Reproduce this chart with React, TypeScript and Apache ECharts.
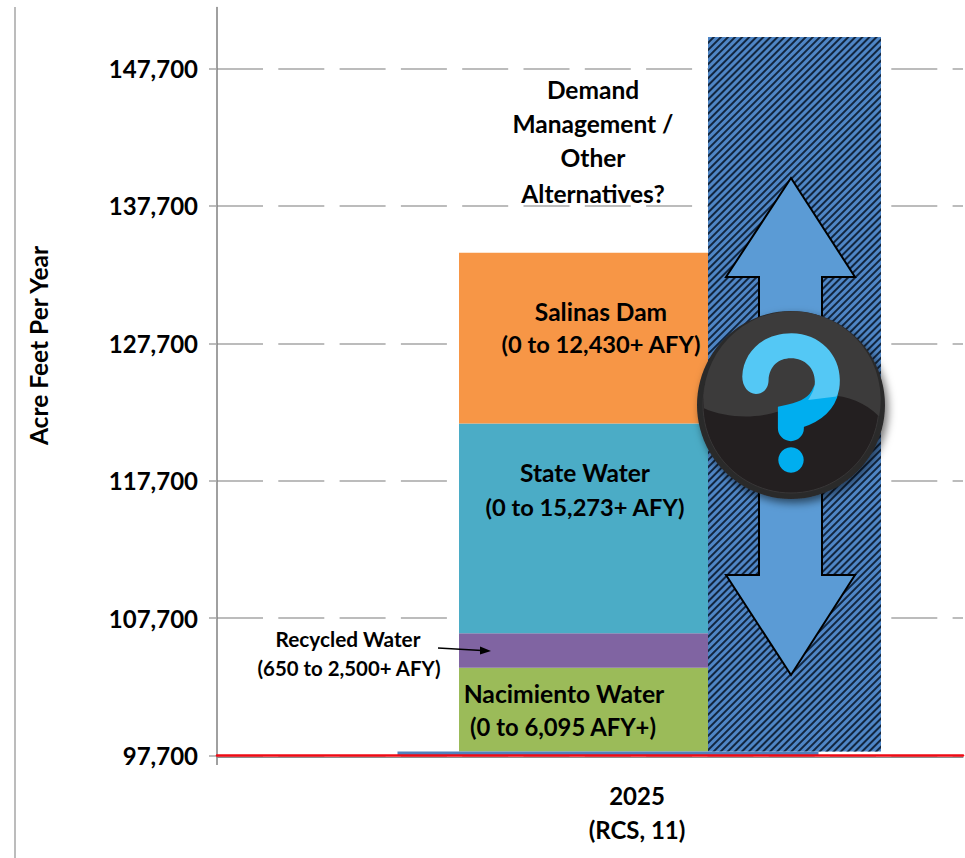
import React, { useEffect, useRef } from "react";
import * as echarts from "echarts";

const categories = ["2025\n(RCS, 11)"];
const tickValues = [97700, 107700, 117700, 127700, 137700, 147700];
const baseSupply = [98000];
const nacimiento = [6095];
const recycled = [2500];
const stateWater = [15273];
const salinasDam = [12430];
const demandManagement = [52000];

const FONT = "Lato, Carlito, Calibri, sans-serif";

echarts.graphic.registerShape(
  "glossTop",
  echarts.graphic.extendPath(
    "M72,385 C150,420 270,420 350,370 C430,330 530,340 598,410 A266,266 0 1 0 72,385 Z",
    {}
  )
);
echarts.graphic.registerShape(
  "qLight",
  echarts.graphic.extendPath(
    "M187,290 C190,215 250,160 335,160 C420,160 480,225 480,300 C480,320 478,335 470,350 L385,360 C398,340 405,325 405,305 C405,265 375,235 333,235 C295,235 268,260 266,300 C266,325 250,342 228,342 C205,342 187,320 187,290 Z",
    {}
  )
);
echarts.graphic.registerShape(
  "qDark",
  echarts.graphic.extendPath("M435,340 C420,380 385,400 333,412 L333,445", {})
);

const bold = (text: string, x: number, y: number, size: number) => ({
  type: "text",
  x,
  y,
  z: 20,
  style: {
    text,
    fontFamily: FONT,
    fontWeight: "bold",
    fontSize: size,
    fill: "#000",
    align: "center",
    verticalAlign: "middle",
  },
});

const iconXf = { x: 680, y: 280, scaleX: 1 / 3, scaleY: 1 / 3, z: 15 };

export default function App() {
  const ref = useRef<HTMLDivElement>(null);
  useEffect(() => {
    document.body.style.margin = "0";
    const chart = echarts.init(ref.current!, null, { renderer: "svg" });
    const stackBar = (name: string, data: number[], color: string, stack: string, width: number) => ({
      name,
      type: "bar",
      stack,
      data,
      barWidth: width,
      barGap: 0,
      xAxisIndex: 0,
      z: 3,
      itemStyle: { color },
    });
    chart.setOption({
      animation: false,
      grid: { left: 217, top: 7.5, width: 746, height: 748, containLabel: false },
      xAxis: [
        {
          type: "category",
          data: categories,
          position: "bottom",
          axisLine: { lineStyle: { color: "#f00a14", width: 2.5 } },
          axisTick: { show: false },
          axisLabel: {
            fontFamily: FONT,
            fontWeight: "bold",
            fontSize: 24,
            color: "#000",
            lineHeight: 34,
            margin: 23,
            padding: [0, 0, 0, 94],
          },
          z: 6,
        },
        {
          type: "category",
          data: categories,
          position: "bottom",
          offset: 1.5,
          axisLine: { lineStyle: { color: "#8c8c8c", width: 1 } },
          axisTick: { show: false },
          axisLabel: { show: false },
          z: 5,
        },
      ],
      yAxis: {
        type: "value",
        min: 97700,
        max: 152140,
        name: "Acre Feet Per Year",
        nameLocation: "middle",
        nameRotate: 90,
        nameGap: 166,
        nameTextStyle: {
          fontFamily: FONT,
          fontWeight: "bold",
          fontSize: 24.5,
          color: "#000",
          padding: [0, 0, 0, 72],
        },
        axisLine: { show: true, lineStyle: { color: "#808080", width: 1.5 } },
        axisTick: {
          show: true,
          length: 8,
          lineStyle: { color: "#a6a6a6", width: 1.5 },
          customValues: tickValues,
        },
        axisLabel: {
          fontFamily: FONT,
          fontWeight: "bold",
          fontSize: 24,
          color: "#000",
          margin: 19,
          customValues: tickValues,
          formatter: (v: number) => v.toLocaleString("en-US"),
        },
        splitLine: {
          show: true,
          lineStyle: { color: "#a6a6a6", width: 1.5, type: [46, 15.3] },
        },
      },
      series: [
        { name: "spacer", type: "bar", data: [null], barWidth: 160, barGap: 0, xAxisIndex: 0, silent: true },
        stackBar("Base", baseSupply, "transparent", "supply", 249),
        stackBar("Nacimiento Water", nacimiento, "#9bbb59", "supply", 249),
        stackBar("Recycled Water", recycled, "#8064a2", "supply", 249),
        stackBar("State Water", stateWater, "#4bacc6", "supply", 249),
        stackBar("Salinas Dam", salinasDam, "#f79646", "supply", 249),
        stackBar("Base 2", baseSupply, "transparent", "demand", 173),
        {
          ...stackBar("Demand Management / Other Alternatives", demandManagement, "#4a7ebb", "demand", 173),
          itemStyle: {
            color: "#4f86c6",
            decal: {
              symbol: "rect",
              symbolSize: 1,
              color: "#12263f",
              dashArrayX: [1, 0],
              dashArrayY: [1.5, 2.7],
              rotation: -Math.PI / 4,
            },
          },
        },
        { name: "spacer 2", type: "bar", data: [null], barWidth: 36, barGap: 0, xAxisIndex: 1, silent: true },
        {
          name: "Base supply",
          type: "bar",
          data: baseSupply,
          barWidth: 421,
          barGap: 0,
          xAxisIndex: 1,
          z: 4,
          itemStyle: { color: "#4f81bd" },
        },
      ],
      graphic: {
        elements: [
          {
            type: "line",
            z: 1,
            shape: { x1: 15, y1: 7, x2: 15, y2: 858 },
            style: { stroke: "#a6a6a6", lineWidth: 1.5 },
          },
          {
            type: "line",
            z: 1,
            shape: { x1: 217, y1: 755, x2: 217, y2: 765 },
            style: { stroke: "#808080", lineWidth: 1.5 },
          },
          bold("Demand", 593, 89, 24.5),
          bold("Management /", 593, 123, 24.5),
          bold("Other", 593, 157, 24.5),
          bold("Alternatives?", 593, 193, 24.5),
          bold("Salinas Dam", 601, 311, 24.5),
          bold("(0 to 12,430+ AFY)", 601, 344, 23.7),
          bold("State Water", 585, 472, 24.5),
          bold("(0 to 15,273+ AFY)", 585, 507, 23.7),
          bold("Nacimiento Water", 564, 693, 24.7),
          bold("(0 to 6,095 AFY+)", 563, 727, 23.8),
          bold("Recycled Water", 348, 638, 20.8),
          bold("(650 to 2,500+ AFY)", 349, 668, 20.4),
          {
            type: "line",
            z: 20,
            shape: { x1: 438, y1: 648, x2: 482, y2: 650.5 },
            style: { stroke: "#000", lineWidth: 1.5 },
          },
          {
            type: "polygon",
            z: 20,
            shape: { points: [[491, 651], [480, 646.5], [480, 654.5]] },
            style: { fill: "#000" },
          },
          {
            type: "polygon",
            z: 12,
            shape: {
              points: [
                [791, 178],
                [855, 277],
                [822, 277],
                [822, 575],
                [855, 575],
                [791, 675],
                [726, 575],
                [759, 575],
                [759, 277],
                [726, 277],
              ],
            },
            style: { fill: "#5b9bd5", stroke: "#000", lineWidth: 2 },
          },
          {
            type: "circle",
            z: 13,
            shape: { cx: 791, cy: 405, r: 94 },
            style: {
              fill: "#2b2a2b",
              shadowBlur: 8,
              shadowColor: "rgba(0,0,0,0.55)",
              shadowOffsetX: 3,
              shadowOffsetY: 4,
            },
          },
          {
            type: "circle",
            z: 14,
            shape: { cx: 791, cy: 405, r: 88 },
            style: { fill: "#231f20", stroke: "#383637", lineWidth: 1 },
          },
          { type: "glossTop", ...iconXf, style: { fill: "#3c3b3b" } },
          {
            type: "qDark",
            ...iconXf,
            z: 16,
            style: { fill: "none", stroke: "#00aeef", lineWidth: 78, lineCap: "round" },
          },
          { type: "qLight", ...iconXf, z: 17, style: { fill: "#54c8f5" } },
          {
            type: "circle",
            z: 17,
            shape: { cx: 791, cy: 460, r: 12.7 },
            style: { fill: "#00aeef" },
          },
        ],
      },
    });
    return () => chart.dispose();
  }, []);
  return <div ref={ref} style={{ width: 965, height: 858 }} />;
}
